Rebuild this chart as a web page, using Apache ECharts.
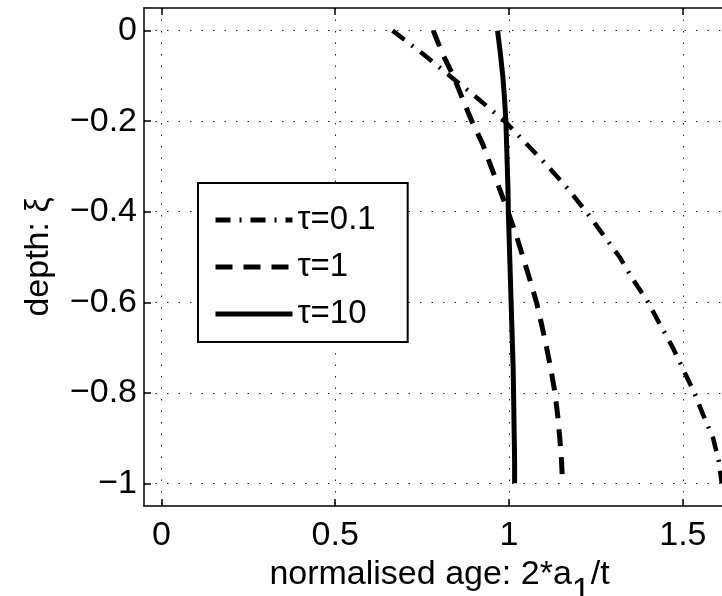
<!DOCTYPE html>
<html><head><meta charset="utf-8">
<script src="https://cdn.jsdelivr.net/npm/echarts@6/dist/echarts.min.js"></script>
<style>html,body{margin:0;padding:0;background:#fff}#c{width:722px;height:596px}</style>
</head><body><div id="c"></div>
<script>
const depth = [0,-0.05,-0.1,-0.15,-0.2,-0.25,-0.3,-0.35,-0.4,-0.45,-0.5,-0.55,-0.6,-0.65,-0.7,-0.75,-0.8,-0.85,-0.9,-0.95,-1];
const ageTau01 = [0.665,0.75,0.83,0.91,0.988,1.05,1.112,1.17,1.222,1.27,1.318,1.357,1.40,1.435,1.471,1.502,1.533,1.559,1.587,1.603,1.612];
const ageTau1  = [0.782,0.808,0.84,0.866,0.893,0.924,0.948,0.973,0.997,1.02,1.04,1.06,1.079,1.094,1.108,1.121,1.132,1.14,1.146,1.151,1.154];
const ageTau10 = [0.967,0.975,0.982,0.987,0.991,0.993,0.995,0.997,0.998,1.0,1.002,1.004,1.006,1.008,1.010,1.012,1.013,1.014,1.015,1.016,1.016];
const seriesNames = ['τ=0.1','τ=1','τ=10'];
const xTicks = [0, 0.5, 1, 1.5];
const yTicks = [0, -0.2, -0.4, -0.6, -0.8, -1];

const FONT = '"Liberation Sans", Arial, Helvetica, sans-serif';
const FS = 34;
const fmt = v => (v < 0 ? '\u2212' : '') + String(Math.abs(+v.toFixed(2)));
const pair = (xs) => xs.map((x, i) => [x, depth[i]]);

const chart = echarts.init(document.getElementById('c'));
const axisLine = {show:true, onZero:false, lineStyle:{color:'#000', width:1.5}};
const gridLine = {show:true, lineStyle:{color:'#222', width:1, type:[1.5, 10]}};
chart.setOption({
  backgroundColor:'#fff',
  animation:false,
  textStyle:{fontFamily:FONT, color:'#000'},
  grid:{left:144, top:8, right:-13, bottom:90, containLabel:false, outerBoundsMode:'none'},
  legend:{
    orient:'vertical', left:198, top:183,
    data:seriesNames,
    backgroundColor:'#fff', borderColor:'#000', borderWidth:2,
    padding:[19, 32, 10, 15],
    itemWidth:77, itemHeight:14, itemGap:11,
    itemStyle:{color:'rgba(0,0,0,0)', borderColor:'rgba(0,0,0,0)', borderWidth:0},
    lineStyle:{width:5},
    textStyle:{fontFamily:FONT, fontSize:33, color:'#000', lineHeight:36}
  },
  xAxis:[{
    type:'value', min:-0.05, max:1.65, position:'bottom',
    axisLine:axisLine,
    axisTick:{show:true, inside:true, length:7, customValues:xTicks, lineStyle:{color:'#000', width:1.5}},
    axisLabel:{customValues:xTicks, fontSize:FS, color:'#000', fontFamily:FONT, margin:13, formatter:fmt},
    splitLine:gridLine,
    name:'{n|normalised age: 2*a}{s|1}{n|/t}', nameLocation:'middle', nameGap:34,
    nameTextStyle:{rich:{
      n:{fontSize:FS, fontFamily:FONT, color:'#000', verticalAlign:'top'},
      s:{fontSize:FS, fontFamily:FONT, color:'#000', verticalAlign:'top', padding:[17,0,0,0]}
    }}
  },{
    type:'value', min:-0.05, max:1.65, position:'top',
    axisLine:axisLine,
    axisTick:{show:true, inside:true, length:7, customValues:xTicks, lineStyle:{color:'#000', width:1.5}},
    axisLabel:{show:false}, splitLine:{show:false}
  }],
  yAxis:[{
    type:'value', min:-1.05, max:0.05, position:'left',
    axisLine:axisLine,
    axisTick:{show:true, inside:true, length:7, customValues:yTicks, lineStyle:{color:'#000', width:1.5}},
    axisLabel:{customValues:yTicks, fontSize:FS, color:'#000', fontFamily:FONT, margin:7, formatter:fmt},
    splitLine:gridLine,
    name:'depth: ξ', nameLocation:'middle', nameGap:88, nameRotate:90,
    nameTextStyle:{fontSize:FS, fontFamily:FONT, color:'#000'}
  }],
  series:[
    {name:seriesNames[0], type:'line', xAxisIndex:0, yAxisIndex:0, data:pair(ageTau01), symbol:'none',
     lineStyle:{color:'#000', width:4.5, type:[15, 9, 2, 9]}, itemStyle:{color:'#000'}},
    {name:seriesNames[1], type:'line', xAxisIndex:0, yAxisIndex:0, data:pair(ageTau1), symbol:'none',
     lineStyle:{color:'#000', width:5, type:[17, 11]}, itemStyle:{color:'#000'}},
    {name:seriesNames[2], type:'line', xAxisIndex:0, yAxisIndex:0, data:pair(ageTau10), symbol:'none',
     lineStyle:{color:'#000', width:5, type:'solid'}, itemStyle:{color:'#000'}}
  ]
});
</script>
</body></html>
